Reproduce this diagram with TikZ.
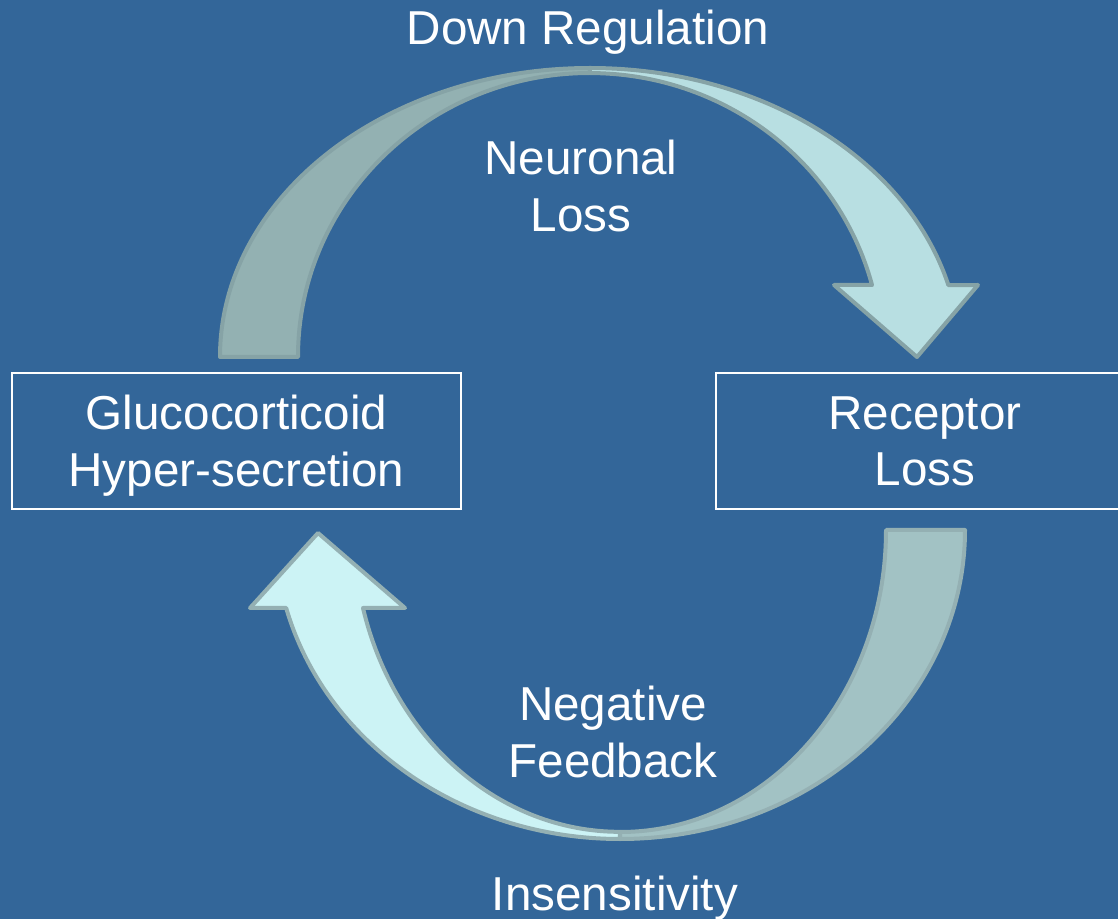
\documentclass[tikz,border=0pt]{standalone}
\usepackage{fontspec}
\setmainfont{Liberation Sans}
\usepackage{xcolor}
\definecolor{slideblue}{RGB}{51,102,153}
\definecolor{edgetop}{RGB}{134,163,166}
\definecolor{edgebot}{RGB}{148,176,179}
\definecolor{backgrey}{RGB}{147,177,178}
\definecolor{frontcyan}{RGB}{184,223,226}
\definecolor{backgreyb}{RGB}{162,194,196}
\definecolor{frontcyanb}{RGB}{204,243,245}

\begin{document}
\begin{tikzpicture}[x=0.75pt,y=-0.75pt,
   txt/.style={text=white,inner sep=0pt,font=\fontsize{35.7}{42.5}\selectfont},
   box/.style={txt,draw=white,line width=1.5pt,minimum height=102pt,align=center,text depth=0pt},
   band/.style={line width=3pt,line join=round}]
   \useasboundingbox (0,0) rectangle (1118,919);
   \fill[slideblue] (0,0) rectangle (1118,919);
   \clip (0,0) rectangle (1118,919);

   % top arrow: back half then front half with head
   \path[band,fill=backgrey,draw=edgetop] (220,357) arc[start angle=180,end angle=270,x radius=370,y radius=289]
      -- (590,73) arc[start angle=270,end angle=180,x radius=292,y radius=284] -- cycle;
   \path[band,fill=frontcyan,draw=edgetop] (590,68) arc[start angle=270,end angle=345.6,x radius=370,y radius=289]
      -- (978,285) -- (917,357) -- (834,285)
      -- (872,285) arc[start angle=345.3,end angle=270,x radius=292,y radius=284] -- cycle;

   % bottom arrow
   \path[band,fill=backgreyb,draw=edgebot] (965,530) arc[start angle=0,end angle=90,x radius=345,y radius=309]
      -- (620,832) arc[start angle=90,end angle=0,x radius=266,y radius=302] -- cycle;
   \path[band,fill=frontcyanb,draw=edgebot] (620,839) arc[start angle=90,end angle=165.4,x radius=345,y radius=309]
      -- (250,608) -- (318,533) -- (405,608)
      -- (363,608) arc[start angle=165,end angle=90,x radius=266,y radius=302] -- cycle;

   \node[box,minimum width=336.75pt] (gluco) at (236.5,441) {Glucocorticoid\\Hyper-secretion};
   \node[box,minimum width=313.5pt] (receptor) at (925,441) {Receptor\\Loss};

   \node[txt,anchor=base] (downreg) at (588,45) {Down Regulation};
   \node[txt,align=center,anchor=north] (neuronal) at (581,140) {Neuronal\\Loss};
   \node[txt,align=center,anchor=north] (negative) at (613,686) {Negative\\Feedback};
   \node[txt,anchor=base] (insens) at (615,910) {Insensitivity};
\end{tikzpicture}
\end{document}
